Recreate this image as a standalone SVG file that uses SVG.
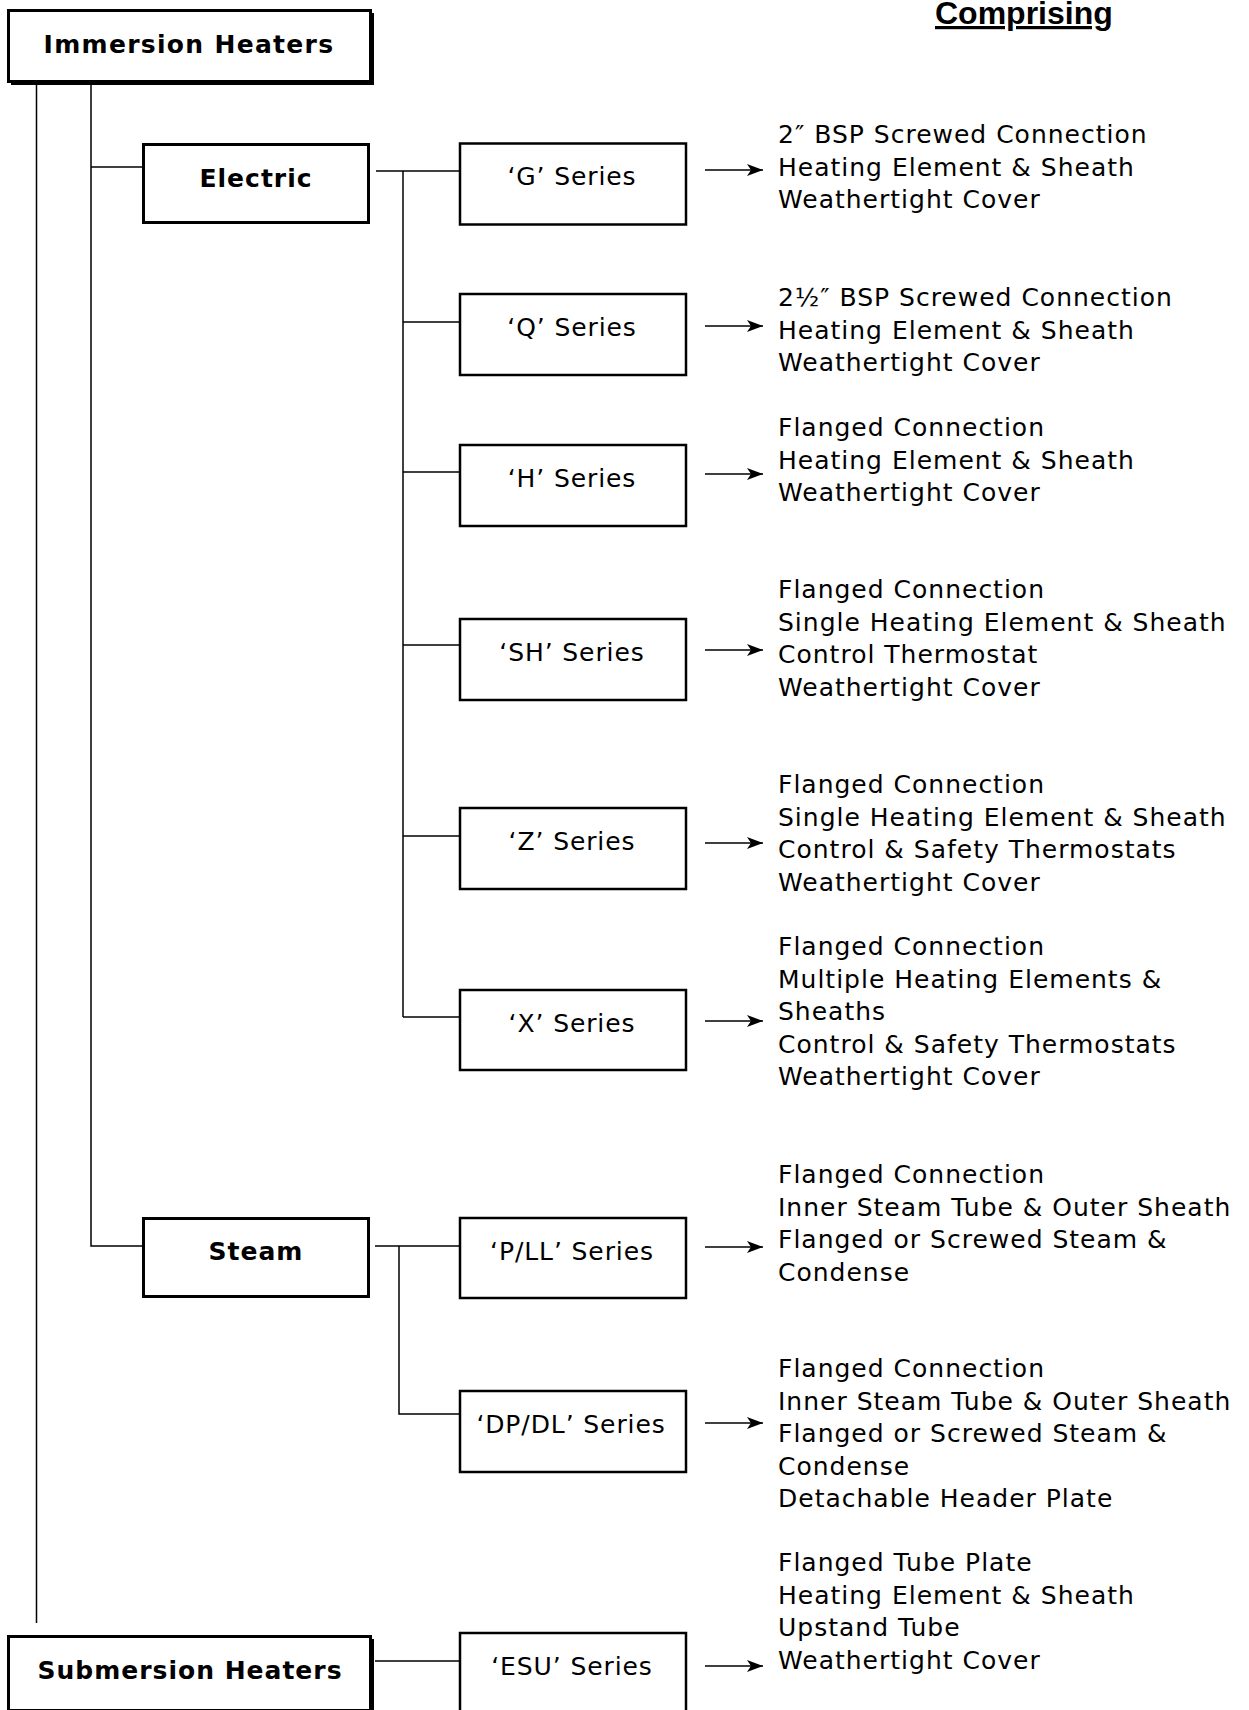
<svg xmlns="http://www.w3.org/2000/svg" width="1249" height="1710" viewBox="0 0 1249 1710">
<style>
.bg{fill:#fff}
.mbox{fill:#fff;stroke:#000;stroke-width:3}
.shadow{fill:#000}
.sbox{fill:#fff;stroke:#000;stroke-width:2.5}
.con{stroke:#000;stroke-width:1.5;fill:none}
.arr{stroke:#000;stroke-width:1.5;fill:none;marker-end:url(#ah)}
.bt{font-family:"DejaVu Sans",Verdana,sans-serif;font-weight:bold;font-size:25px;letter-spacing:1px;text-anchor:middle;fill:#000}
.st{font-family:"DejaVu Sans",Verdana,sans-serif;font-size:25px;letter-spacing:0.9px;text-anchor:middle;fill:#000}
.ct{font-family:"DejaVu Sans",Verdana,sans-serif;font-size:25px;letter-spacing:1px;fill:#000}
.hd{font-family:"Liberation Sans",Arial,sans-serif;font-weight:bold;font-size:32px;fill:#000;text-decoration:underline}
</style>
<defs>
<marker id="ah" markerUnits="userSpaceOnUse" markerWidth="16" markerHeight="12" refX="16" refY="6" orient="auto">
<path d="M0,0 L16,6 L0,12 L4,6 z" fill="#000"/>
</marker>
</defs>
<rect class="bg" x="0" y="0" width="1249" height="1710"/>
<text class="hd" x="935" y="24">Comprising</text>

<g id="connectors">
<path class="con" d="M36.5,79 V1623"/>
<path class="con" d="M91,79 V1246 H153"/>
<path class="con" d="M91,167 H153"/>
<path class="con" d="M376,171 H471"/>
<path class="con" d="M403,171 V1017"/>
<path class="con" d="M403,322 H471"/>
<path class="con" d="M403,472 H471"/>
<path class="con" d="M403,645 H471"/>
<path class="con" d="M403,836 H471"/>
<path class="con" d="M403,1017 H471"/>
<path class="con" d="M375,1246 H469"/>
<path class="con" d="M399,1246 V1414 H472"/>
<path class="con" d="M375,1661 H469"/>
<path class="arr" d="M705,170 H763"/>
<path class="arr" d="M705,326 H763"/>
<path class="arr" d="M705,474 H763"/>
<path class="arr" d="M705,650 H763"/>
<path class="arr" d="M705,843 H763"/>
<path class="arr" d="M705,1021 H763"/>
<path class="arr" d="M705,1247 H763"/>
<path class="arr" d="M705,1423 H763"/>
<path class="arr" d="M705,1666 H763"/>
</g>

<g id="immersion">
<rect class="shadow" x="11" y="13" width="363" height="72"/>
<rect class="mbox" x="8.5" y="10.5" width="362" height="71"/>
<text class="bt" x="189" y="53" style="letter-spacing:1.3px">Immersion Heaters</text>
</g>
<g id="electric">
<rect class="mbox" x="143.5" y="144.5" width="225" height="78"/>
<text class="bt" x="256" y="187">Electric</text>
</g>
<g id="steam">
<rect class="mbox" x="143.5" y="1218.5" width="225" height="78"/>
<text class="bt" x="256" y="1260">Steam</text>
</g>
<g id="submersion">
<rect class="shadow" x="11" y="1639" width="363" height="75"/>
<rect class="mbox" x="8.5" y="1636.5" width="362" height="74"/>
<text class="bt" x="190" y="1679">Submersion Heaters</text>
</g>

<g id="g-series">
<rect class="sbox" x="460" y="143.5" width="226" height="81"/>
<text class="st" x="572" y="185">‘G’ Series</text>
</g>
<g id="q-series">
<rect class="sbox" x="460" y="294" width="226" height="81"/>
<text class="st" x="572" y="336">‘Q’ Series</text>
</g>
<g id="h-series">
<rect class="sbox" x="460" y="445" width="226" height="81"/>
<text class="st" x="572" y="487">‘H’ Series</text>
</g>
<g id="sh-series">
<rect class="sbox" x="460" y="619" width="226" height="81"/>
<text class="st" x="572" y="661">‘SH’ Series</text>
</g>
<g id="z-series">
<rect class="sbox" x="460" y="808" width="226" height="81"/>
<text class="st" x="572" y="850">‘Z’ Series</text>
</g>
<g id="x-series">
<rect class="sbox" x="460" y="990" width="226" height="80"/>
<text class="st" x="572" y="1032">‘X’ Series</text>
</g>
<g id="pll-series">
<rect class="sbox" x="460" y="1218" width="226" height="80"/>
<text class="st" x="572" y="1260">‘P/LL’ Series</text>
</g>
<g id="dpdl-series">
<rect class="sbox" x="460" y="1391" width="226" height="81"/>
<text class="st" x="571" y="1433">‘DP/DL’ Series</text>
</g>
<g id="esu-series">
<rect class="sbox" x="460" y="1633" width="226" height="80"/>
<text class="st" x="572" y="1675">‘ESU’ Series</text>
</g>

<g id="g-comp">
<text class="ct" x="778" y="143"><tspan x="778">2″ BSP Screwed Connection</tspan><tspan x="778" dy="32.6">Heating Element &amp; Sheath</tspan><tspan x="778" dy="32.6">Weathertight Cover</tspan></text>
</g>
<g id="q-comp">
<text class="ct" x="778" y="306"><tspan x="778">2½″ BSP Screwed Connection</tspan><tspan x="778" dy="32.6">Heating Element &amp; Sheath</tspan><tspan x="778" dy="32.6">Weathertight Cover</tspan></text>
</g>
<g id="h-comp">
<text class="ct" x="778" y="436"><tspan x="778">Flanged Connection</tspan><tspan x="778" dy="32.6">Heating Element &amp; Sheath</tspan><tspan x="778" dy="32.6">Weathertight Cover</tspan></text>
</g>
<g id="sh-comp">
<text class="ct" x="778" y="598"><tspan x="778">Flanged Connection</tspan><tspan x="778" dy="32.6">Single Heating Element &amp; Sheath</tspan><tspan x="778" dy="32.6">Control Thermostat</tspan><tspan x="778" dy="32.6">Weathertight Cover</tspan></text>
</g>
<g id="z-comp">
<text class="ct" x="778" y="793"><tspan x="778">Flanged Connection</tspan><tspan x="778" dy="32.6">Single Heating Element &amp; Sheath</tspan><tspan x="778" dy="32.6">Control &amp; Safety Thermostats</tspan><tspan x="778" dy="32.6">Weathertight Cover</tspan></text>
</g>
<g id="x-comp">
<text class="ct" x="778" y="955"><tspan x="778">Flanged Connection</tspan><tspan x="778" dy="32.6">Multiple Heating Elements &amp;</tspan><tspan x="778" dy="32.6">Sheaths</tspan><tspan x="778" dy="32.6">Control &amp; Safety Thermostats</tspan><tspan x="778" dy="32.6">Weathertight Cover</tspan></text>
</g>
<g id="pll-comp">
<text class="ct" x="778" y="1183"><tspan x="778">Flanged Connection</tspan><tspan x="778" dy="32.6">Inner Steam Tube &amp; Outer Sheath</tspan><tspan x="778" dy="32.6">Flanged or Screwed Steam &amp;</tspan><tspan x="778" dy="32.6">Condense</tspan></text>
</g>
<g id="dpdl-comp">
<text class="ct" x="778" y="1377"><tspan x="778">Flanged Connection</tspan><tspan x="778" dy="32.6">Inner Steam Tube &amp; Outer Sheath</tspan><tspan x="778" dy="32.6">Flanged or Screwed Steam &amp;</tspan><tspan x="778" dy="32.6">Condense</tspan><tspan x="778" dy="32.6">Detachable Header Plate</tspan></text>
</g>
<g id="esu-comp">
<text class="ct" x="778" y="1571"><tspan x="778">Flanged Tube Plate</tspan><tspan x="778" dy="32.6">Heating Element &amp; Sheath</tspan><tspan x="778" dy="32.6">Upstand Tube</tspan><tspan x="778" dy="32.6">Weathertight Cover</tspan></text>
</g>
</svg>
